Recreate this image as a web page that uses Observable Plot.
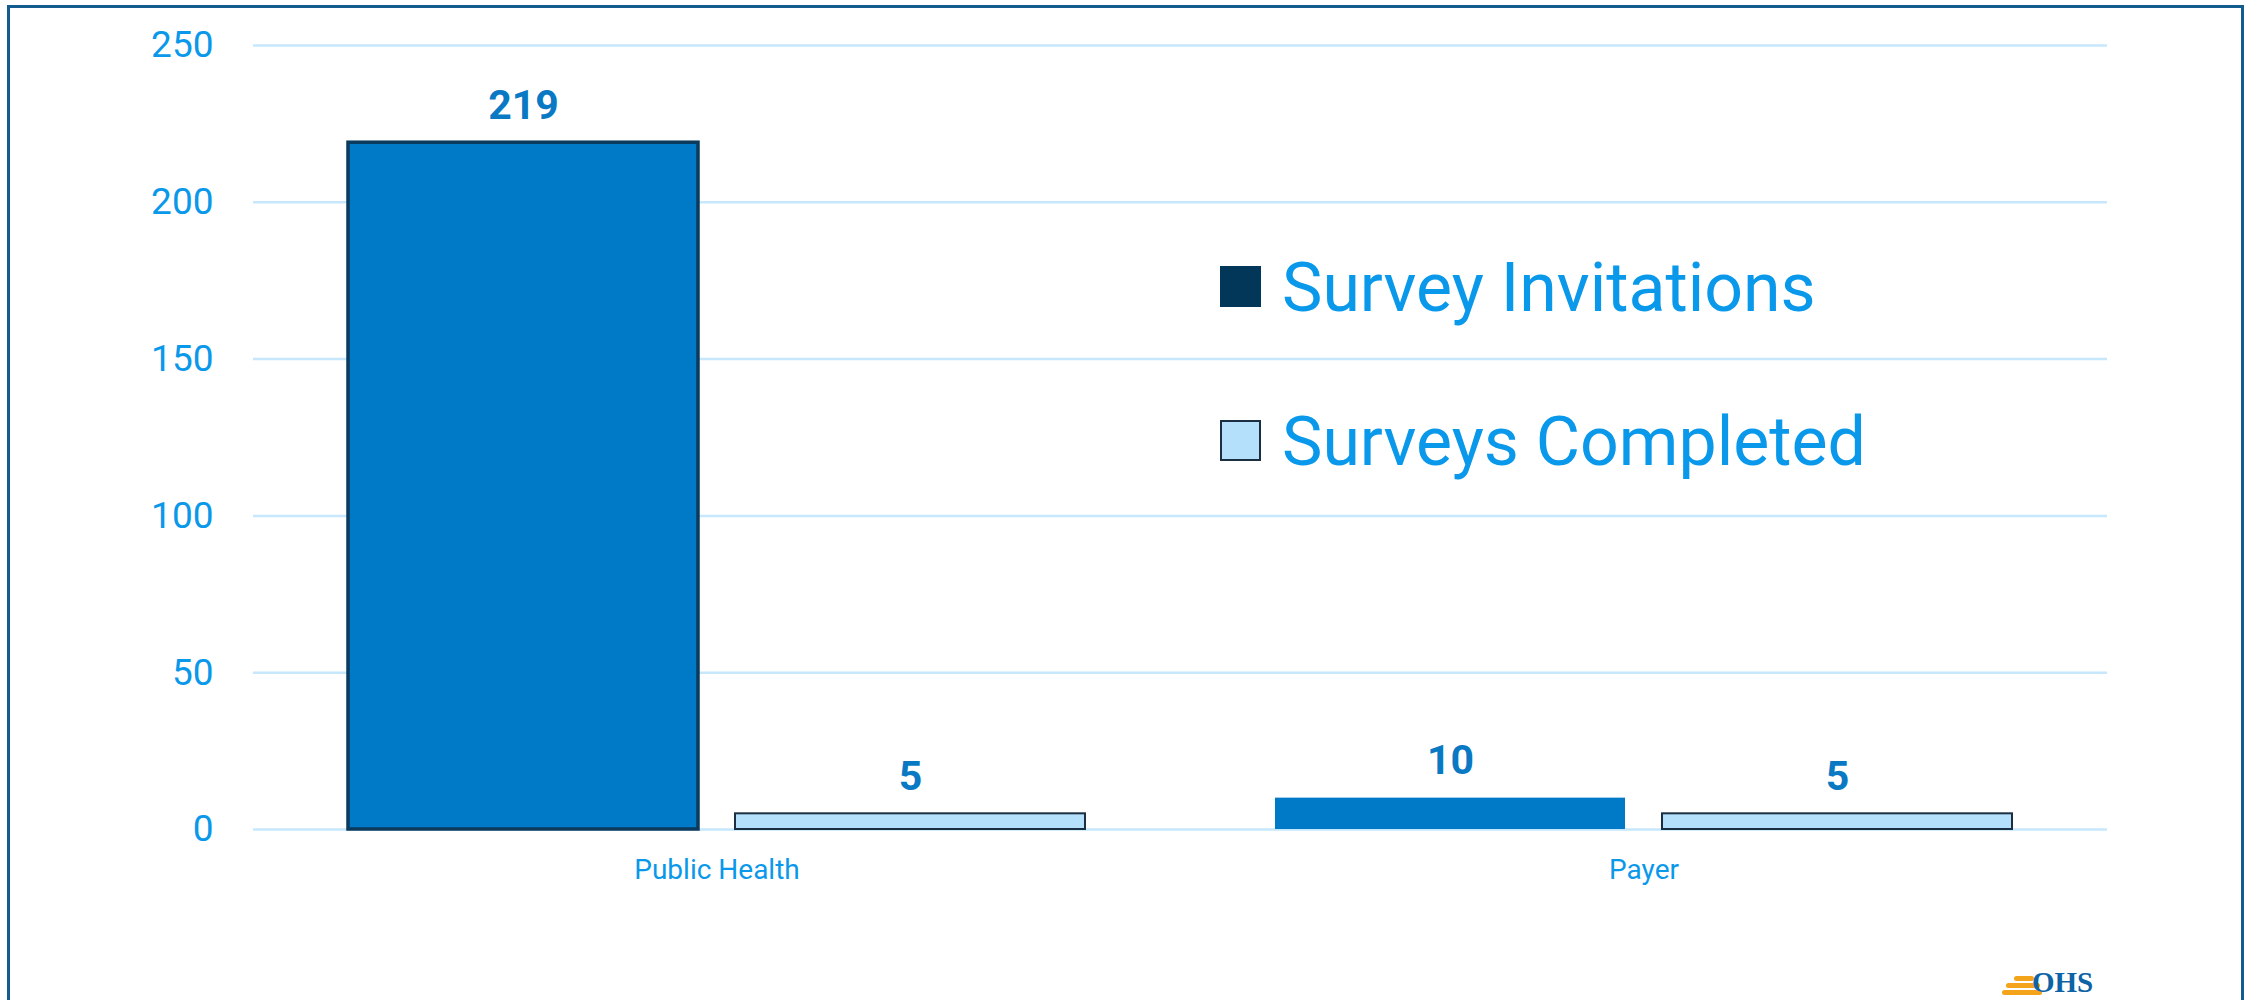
<!DOCTYPE html>
<html>
<head>
<meta charset="utf-8">
<script src="https://cdn.jsdelivr.net/npm/d3@7"></script>
<script src="https://cdn.jsdelivr.net/npm/@observablehq/plot@0.6"></script>
<style>
  html, body { margin: 0; padding: 0; background: #fff; }
  body { width: 2257px; height: 1000px; overflow: hidden; position: relative; font-family: Roboto, "Open Sans", sans-serif; }
  #frame { position: absolute; left: 7px; top: 5px; width: 2237px; height: 1100px; border: 3px solid #145c8f; box-sizing: border-box; pointer-events: none; }
  #chart { position: absolute; left: 0; top: 0; }
  #legend { position: absolute; left: 1220px; top: 254px; }
  .item { position: absolute; left: 0; white-space: nowrap; font-size: 68px; color: #0a98ea; line-height: 1; }
  .sw { position: absolute; left: 0; width: 41px; height: 41px; box-sizing: border-box; }
  .lab { position: absolute; left: 62px; top: 0; }
  #logo { position: absolute; left: 2000px; top: 966px; width: 180px; height: 32px; }
  #logo .o { position: absolute; left: 2px; height: 5px; background: #f4a41b; border-radius: 3px; }
  #logo .t { position: absolute; left: 32px; top: 2px; font: bold 29px "Liberation Serif", serif; color: #0d63a5; line-height: 1; }
</style>
</head>
<body>
<div id="chart"></div>
<div id="legend"></div>
<div id="frame"></div>
<div id="logo">
  <div class="o" style="top:10px;left:14px;width:20px"></div>
  <div class="o" style="top:17px;left:6px;width:34px"></div>
  <div class="o" style="top:24px;left:2px;width:40px"></div>
  <div class="t">OHS</div>
</div>
<script>
const categories = ["Public Health", "Payer"];
const seriesNames = ["Survey Invitations", "Surveys Completed"];
const invitations = [219, 10];
const completed = [5, 5];
const yTicks = [0, 50, 100, 150, 200, 250];

const data = categories.flatMap((c, i) => [
  {category: c, series: seriesNames[0], value: invitations[i]},
  {category: c, series: seriesNames[1], value: completed[i]}
]);

const barFill = ["#0079c6", "#b5e0fb"];
const legendSwatch = ["#03375a", "#b5e0fb"];

const chart = Plot.plot({
  width: 2257,
  height: 1000,
  marginLeft: 252,
  marginRight: 150,
  marginTop: 45,
  marginBottom: 171,
  style: {fontFamily: "Roboto, 'Open Sans', sans-serif", background: "transparent", color: "#0a98ea"},
  fx: {domain: categories, padding: 0, label: null, axis: null},
  x: {domain: seriesNames, paddingInner: 0.0956, paddingOuter: 0.245, axis: null},
  y: {domain: [0, 250], label: null, axis: null},
  color: {domain: seriesNames, range: barFill},
  marks: [
    Plot.gridY(yTicks, {stroke: "#c6e7fc", strokeOpacity: 1, strokeWidth: 2.5}),
    Plot.axisY(yTicks, {tickSize: 0, tickPadding: 40, fontSize: 37, fill: "#0a98ea", label: null}),
    Plot.axisFx({anchor: "bottom", tickSize: 0, tickPadding: 30, fontSize: 28, fill: "#0a98ea", label: null}),
    Plot.barY(data, {
      fx: "category", x: "series", y: "value", fill: "series",
      stroke: d => (d.series === seriesNames[1] ? "#1b2f42" : (d.value > 100 ? "#0b3a5c" : "none")),
      strokeWidth: d => (d.series === seriesNames[1] ? 2 : 3.5)
    }),
    Plot.text(data, {
      fx: "category", x: "series", y: "value", text: d => String(d.value),
      dy: -24, lineAnchor: "bottom", fontSize: 41, fontWeight: "bold", fill: "#0a79c4"
    })
  ]
});
document.getElementById("chart").appendChild(chart);

const legend = document.getElementById("legend");
seriesNames.forEach((s, i) => {
  const item = document.createElement("div");
  item.className = "item";
  item.style.top = (i * 154) + "px";
  const sw = document.createElement("div");
  sw.className = "sw";
  sw.style.top = "12px";
  sw.style.background = legendSwatch[i];
  if (i === 1) sw.style.border = "2px solid #1b2f42";
  const lab = document.createElement("div");
  lab.className = "lab";
  lab.textContent = s;
  item.appendChild(sw);
  item.appendChild(lab);
  legend.appendChild(item);
});
</script>
</body>
</html>
